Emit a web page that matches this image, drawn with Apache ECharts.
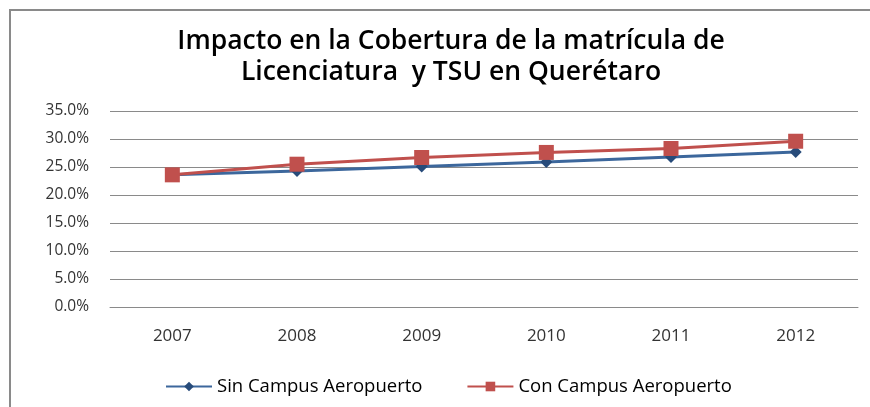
<!DOCTYPE html>
<html>
<head>
<meta charset="utf-8">
<script src="https://cdn.jsdelivr.net/npm/echarts@6/dist/echarts.min.js"></script>
<style>
  html, body { margin: 0; padding: 0; background: #fff; }
  #chart { width: 870px; height: 407px; }
</style>
</head>
<body>
<div id="chart"></div>
<script>
// años (eje x)
const years = ['2007', '2008', '2009', '2010', '2011', '2012'];
// cobertura sin / con el campus aeropuerto (fracción)
const sinCampus = [0.236, 0.243, 0.251, 0.259, 0.268, 0.277];
const conCampus = [0.236, 0.255, 0.267, 0.276, 0.283, 0.296];
const seriesNames = ['Sin Campus Aeropuerto', 'Con Campus Aeropuerto'];
const titleText = 'Impacto en la Cobertura de la matrícula de\nLicenciatura  y TSU en Querétaro';

const font = '"Open Sans", Lato, sans-serif';
const chart = echarts.init(document.getElementById('chart'));

chart.setOption({
  backgroundColor: '#ffffff',
  animation: false,
  title: {
    text: titleText,
    left: 446,
    textAlign: 'center',
    top: 21,
    textStyle: {
      fontFamily: font,
      fontSize: 26.5,
      fontWeight: 600,
      color: '#000',
      lineHeight: 31
    }
  },
  graphic: [
    { type: 'line', shape: { x1: 9, y1: 10, x2: 870, y2: 10 }, style: { stroke: '#8a8a8a', lineWidth: 2 } },
    { type: 'line', shape: { x1: 10, y1: 9, x2: 10, y2: 407 }, style: { stroke: '#8a8a8a', lineWidth: 2 } }
  ],
  grid: { left: 110, right: 12, top: 111, bottom: 100 },
  legend: {
    top: 372,
    left: 160,
    itemWidth: 46,
    itemHeight: 12,
    itemGap: 44,
    textStyle: { fontFamily: font, fontSize: 18.5, color: '#000' },
    data: seriesNames
  },
  xAxis: {
    type: 'category',
    data: years,
    boundaryGap: true,
    axisLine: { lineStyle: { color: '#8a8a8a', width: 1 } },
    axisTick: { show: false },
    axisLabel: { fontFamily: font, fontSize: 17, color: '#333', margin: 21 }
  },
  yAxis: {
    type: 'value',
    min: 0,
    max: 0.35,
    interval: 0.05,
    axisLine: { show: false },
    axisTick: { show: false },
    splitLine: { lineStyle: { color: '#8a8a8a', width: 1 } },
    axisLabel: {
      fontFamily: font,
      fontSize: 15.5,
      color: '#333',
      margin: 21,
      formatter: (v) => (v * 100).toFixed(1) + '%'
    }
  },
  series: [
    {
      name: seriesNames[0],
      type: 'line',
      data: sinCampus,
      symbol: 'diamond',
      symbolSize: 12,
      lineStyle: { color: '#3c679c', width: 3 },
      itemStyle: { color: '#274b7a' }
    },
    {
      name: seriesNames[1],
      type: 'line',
      data: conCampus,
      symbol: 'rect',
      symbolSize: 15,
      lineStyle: { color: '#c0504d', width: 3 },
      itemStyle: { color: '#c0504d' }
    }
  ]
});
</script>
</body>
</html>
